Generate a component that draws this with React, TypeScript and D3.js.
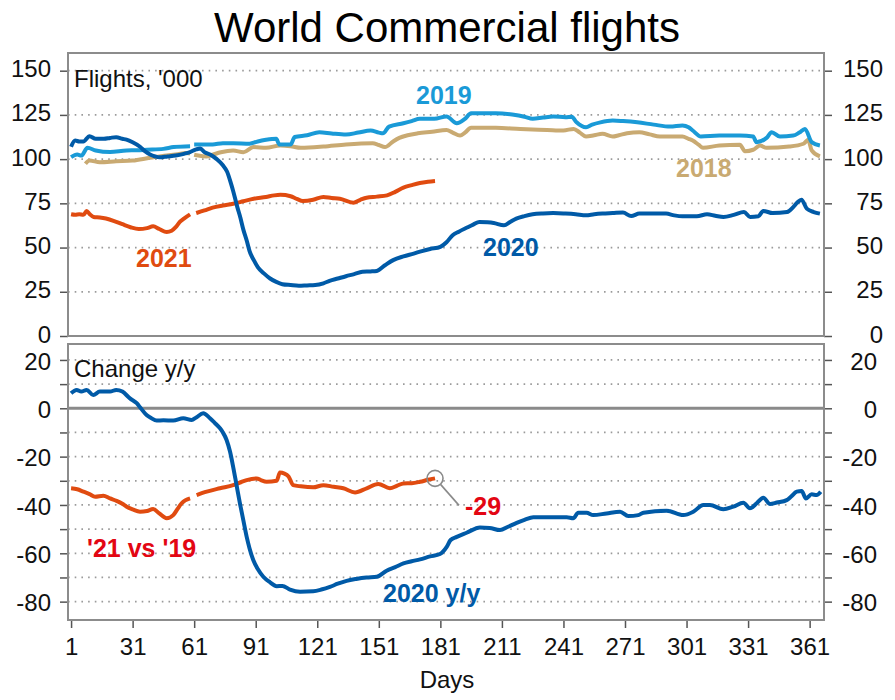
import React, { useRef, useEffect } from "react";
import * as d3 from "d3";

// [day of year, value]; null marks the Feb-29 gap
const flights2018 = [[8,97.4],[10,99.2],[15,98.3],[23,98.8],[31,99.2],[39.5,100.8],[47.6,102],[53,102.8],[57,103.4],[59,103.2],[60,null],[61,102.5],[63,102],[67,101.5],[70,102.5],[74,103.9],[80,104.9],[85,103.9],[90,106.8],[96,106.4],[103,107.7],[108,107.3],[113,106.4],[124,107.1],[135,108.3],[148,109],[151,108],[154,106.8],[158,110],[161,112],[165,113.5],[170,114.6],[177,115.5],[184,116.5],[187,115],[190.6,113.3],[193,115],[196,117.7],[208,117.7],[220,117],[233,116.5],[241,116.2],[246,117.1],[249,115],[252,112.8],[256,113.5],[260,114.3],[265,112.8],[268,113.5],[272,114.6],[278,115.2],[283,114],[288,112.8],[299,112.8],[302,111.5],[304,110.5],[307,108],[309,106.4],[317,107.7],[327,108.1],[329.5,104.5],[333.5,105.3],[336.8,107.7],[340,106.4],[351,107.1],[358,108.7],[360.3,110.9],[362,104.9],[366,101.5]];

const flights2019 = [[1,101.1],[4,102.6],[6,102],[9,106.4],[13,104.9],[20,104],[28,104.9],[33,105],[38,105.3],[46,105.8],[51,106.8],[59,107.3],[60,null],[61,108.3],[66,108.3],[70,108.3],[75,109],[80,109],[88,108.7],[92,110],[96,110.9],[101,111.5],[102.5,108.3],[108,108.3],[110,112.5],[116,113.5],[122,115.2],[128,114.5],[135,113.9],[141,115],[147,116.2],[151,115],[153,114.6],[156,118.4],[163,120.3],[167,121.5],[171,122.8],[178,122.8],[184,124.1],[189,120.3],[193,122.8],[196,125.9],[202,125.9],[208,125.9],[216,125.2],[222,124],[226,122.8],[231,123.5],[236,124.1],[242,123.7],[245,124],[247.4,120.8],[252,118],[255,119.5],[259,120.8],[265,121.8],[270,121.5],[277,120.8],[285,119.5],[293,118.4],[299,119],[302,118],[304,116.2],[308,112.8],[317,113.3],[327,113.3],[333.5,112.8],[335,109.6],[340,112],[342.5,115.2],[346.5,112.8],[353,113.3],[356,115],[358.7,117.1],[362,109.6],[366,107.7]];

const flights2020 = [[1,107],[3,110.5],[5,110],[7,110],[10,113],[13,111.5],[17,111.5],[20,112],[23,112.4],[26,111.5],[28,111],[31,109.5],[34.6,107],[37,104.5],[39.5,102.6],[42,101.5],[44,101],[48,101.5],[52,102],[56,103],[59,104],[62,105.5],[64,106],[66,104],[69,102.5],[72,100],[75,96.5],[77,93],[79,86],[80,82],[82,73],[83.5,67],[85,60],[86.6,54],[88,48],[90,43],[92,39],[95,35.4],[98,32.5],[101,30.6],[104,29.3],[108,28.8],[112,28.4],[116,28.6],[120,28.8],[124,29.8],[127,31.2],[131,32.5],[135,33.8],[139,35],[143,36.3],[147,36.5],[150,36.8],[154,40],[158,42.9],[163,45],[168,46.6],[172,48],[176,49.2],[181,50.4],[184,53],[187,57],[190,59],[194,61.3],[197,63],[200,64.5],[204,64.3],[207,63.9],[212,62.6],[215,64.5],[218,66.4],[222,67.8],[226,68.8],[231,69.3],[236,69.5],[242,69.2],[247,68.8],[252,68.2],[256,68.8],[260,69.2],[265,69.5],[270,69.8],[274,67.8],[278,69.2],[285,69.2],[291,69.2],[295,68.2],[299,67.7],[306,67.7],[311,68.8],[315,68],[319,67.3],[324,68.5],[329,70.1],[332,67.3],[336,67.7],[338.4,70.7],[343,69.5],[350,70.1],[353,72.9],[355,75.5],[357,77.1],[359.6,72],[363,70.1],[366,69.2]];

const flights2021 = [[1,68.8],[3,68.5],[5,68.8],[7,68.5],[8.6,70.7],[10,69],[12,67.3],[15,67],[18,66.4],[22,65],[26,63.2],[30,61.5],[34,60.5],[38,61],[41,62],[44,60.5],[47.6,58.8],[50,59.5],[52,61.5],[54,64.5],[56,66.4],[59,68.8],[60,null],[62,69.5],[66,71],[70,72.6],[75,73.8],[80,74.8],[85,76.2],[90,77.6],[96,78.6],[100,79.5],[103,79.8],[108,79],[111,77.5],[114,76.3],[119,77],[124,78.6],[128,78],[132,77.6],[138.6,75.4],[142,77],[145,78.2],[150,78.8],[155,79.5],[159,81.5],[163,83.9],[167,85.3],[171,86.5],[175,87.2],[178.4,87.6]];

const yoy2020 = [[1,6.2],[3.7,7.6],[6,6.9],[8.6,7.6],[11.8,5.5],[15,6.9],[20,6.9],[23,7.6],[26,6.9],[29.7,4.1],[33,2.1],[35,0],[37.8,-2.8],[40,-4],[42.7,-5.1],[46,-5],[50.8,-5.1],[55.7,-4.1],[59.8,-4.8],[62,-3.8],[65.4,-2.1],[68.7,-4.1],[71,-6],[73.6,-8.3],[75,-10],[76.8,-13.1],[78.5,-18],[80,-24.2],[81.7,-32],[83.3,-39.3],[85,-46.5],[86.6,-53.2],[88,-58],[89.8,-62.8],[92,-66.5],[94.7,-69.7],[98,-72],[101.2,-73.6],[104,-73.5],[107.7,-75],[112.6,-75.9],[119,-75.7],[123,-75],[127.2,-73.9],[131,-72.6],[135.3,-71.4],[140,-70.6],[145,-70],[150,-69.7],[154.8,-67.2],[159,-65.7],[163,-64.2],[167,-63.3],[171.1,-62.5],[176,-61.3],[180.8,-60.3],[184.1,-57.3],[186,-54.5],[189,-53.2],[193.8,-51.5],[200.3,-49.3],[205,-49.5],[210.1,-50.4],[214,-49],[218.2,-47.4],[222,-46.2],[226.3,-45.1],[235,-45.1],[242.6,-45.1],[245.8,-45.5],[248.2,-43.2],[252.3,-43.2],[255.5,-44.2],[262,-43.5],[268.6,-42.8],[272.6,-44.6],[277.5,-44.2],[280,-43.2],[291.3,-42.4],[299.4,-44.2],[304.3,-42.8],[309.2,-40],[312.4,-40],[318.9,-41.8],[323.8,-40.7],[328.7,-39.1],[331.9,-41.4],[335.2,-39.3],[338.4,-37],[341.7,-39.6],[345,-39],[349.8,-38],[352,-36.5],[354.7,-34.5],[357.1,-34.2],[359.2,-37.3],[362,-35.6],[364.4,-35.9],[366.4,-34.5]];

const yoy2119 = [[1,-33.1],[4,-33.5],[7,-34.5],[10,-35.5],[12.7,-36.6],[16.7,-36.2],[20,-37.3],[23.2,-38.3],[26,-39.5],[28.1,-40.7],[31,-41.8],[34.6,-42.8],[38,-42.5],[41,-41.7],[44,-43.5],[47.6,-45.5],[50.8,-44.2],[53,-41.5],[54.9,-39.3],[59,-37.3],[60,null],[62.2,-35.9],[67.1,-34.5],[73.6,-33.1],[80,-31.8],[84,-30.5],[86.6,-29.7],[91.5,-29],[93.5,-29.7],[96.3,-30.4],[101.2,-30],[102.8,-26.6],[105,-27],[107,-28.2],[109.3,-31.8],[113,-32.3],[119,-32.7],[124,-31.8],[129,-32.5],[133.7,-33.1],[139.4,-34.8],[145.1,-33.1],[150.7,-31.3],[156.4,-33.1],[160,-32],[163,-31.1],[167,-31],[171.1,-30.4],[175,-29.6],[178.4,-29]];

const dayTicks = [1, 31, 61, 91, 121, 151, 181, 211, 241, 271, 301, 331, 361];
const topTicks = [0, 25, 50, 75, 100, 125, 150];
const bottomTicks = [-80, -70, -60, -50, -40, -30, -20, -10, 0, 10, 20];

const FONT = "'Liberation Sans', Arial, Helvetica, sans-serif";
const C2020 = "#005aa7";
const C2019 = "#1a9ad7";
const C2018 = "#c9aa72";
const C2021 = "#e04b10";
const RED = "#e30613";
const FRAME = "#8c8c8c";

export default function App() {
  const ref = useRef(null);

  useEffect(() => {
    const width = 895;
    const height = 700;
    const left = 68;
    const right = 824;

    const svg = d3.select(ref.current);
    svg.selectAll("*").remove();
    svg.attr("width", width).attr("height", height).style("font-family", FONT);

    const x = d3.scaleLinear().domain([-0.5, 368]).range([left, right]);
    const yTop = d3.scaleLinear().domain([0, 160]).range([336, 53]);
    const yBot = d3.scaleLinear().domain([-87.6, 26.6]).range([620, 344]);

    // title
    svg.append("text")
      .attr("x", 447).attr("y", 42)
      .attr("text-anchor", "middle")
      .attr("font-size", 42)
      .attr("fill", "#000")
      .text("World Commercial flights");

    const grid = (y, vals) => {
      svg.append("g")
        .selectAll("line")
        .data(vals)
        .enter()
        .append("line")
        .attr("x1", left).attr("x2", right)
        .attr("y1", d => y(d)).attr("y2", d => y(d))
        .attr("stroke", "#9a9a9a")
        .attr("stroke-width", 1.8)
        .attr("stroke-dasharray", "1.6,5.1");
    };
    grid(yTop, topTicks.filter(d => d > 0));
    grid(yBot, bottomTicks.filter(d => d !== 0));

    // zero line
    svg.append("line")
      .attr("x1", left).attr("x2", right)
      .attr("y1", yBot(0)).attr("y2", yBot(0))
      .attr("stroke", "#8a8a8a").attr("stroke-width", 3);

    const styleAxis = (g, anchor, xPos, dy) => {
      g.select(".domain").remove();
      g.selectAll(".tick line").attr("stroke", "#555").attr("stroke-width", 1.5);
      g.selectAll(".tick text")
        .attr("font-size", 24)
        .attr("fill", "#111")
        .attr("font-family", FONT);
      if (anchor) g.selectAll(".tick text").attr("text-anchor", anchor).attr("x", xPos);
      if (dy) g.selectAll(".tick text").attr("dy", dy);
    };

    svg.append("g").attr("transform", `translate(${left},0)`)
      .call(d3.axisLeft(yTop).tickValues(topTicks).tickSize(8).tickPadding(9).tickFormat(d3.format("d")))
      .call(g => styleAxis(g, null, 0, "0.25em"));
    svg.append("g").attr("transform", `translate(${right},0)`)
      .call(d3.axisRight(yTop).tickValues(topTicks).tickSize(8).tickFormat(d3.format("d")))
      .call(g => styleAxis(g, "end", 59, "0.25em"));

    const botFmt = d => (d % 20 === 0 ? String(d) : "");
    svg.append("g").attr("transform", `translate(${left},0)`)
      .call(d3.axisLeft(yBot).tickValues(bottomTicks).tickSize(8).tickPadding(9).tickFormat(botFmt))
      .call(g => styleAxis(g, null, 0, "0.38em"));
    svg.append("g").attr("transform", `translate(${right},0)`)
      .call(d3.axisRight(yBot).tickValues(bottomTicks).tickSize(8).tickFormat(botFmt))
      .call(g => styleAxis(g, "end", 53, "0.38em"));

    svg.append("g").attr("transform", `translate(0,620)`)
      .call(d3.axisBottom(x).tickValues(dayTicks).tickSize(8).tickPadding(10).tickFormat(d3.format("d")))
      .call(g => styleAxis(g, null, 0, null));

    svg.append("text")
      .attr("x", 447).attr("y", 688)
      .attr("text-anchor", "middle")
      .attr("font-size", 24)
      .attr("fill", "#111")
      .text("Days");

    // panel frames
    [[53, 336], [344, 620]].forEach(([t, b]) => {
      svg.append("rect")
        .attr("x", left).attr("y", t)
        .attr("width", right - left).attr("height", b - t)
        .attr("fill", "none")
        .attr("stroke", FRAME)
        .attr("stroke-width", 2);
    });

    svg.append("text").attr("x", 74).attr("y", 87)
      .attr("font-size", 24).attr("fill", "#111").text("Flights, '000");
    svg.append("text").attr("x", 74).attr("y", 377)
      .attr("font-size", 24).attr("fill", "#111").text("Change y/y");

    const drawLine = (data, y, color) => {
      const line = d3.line()
        .defined(d => d[1] !== null)
        .x(d => x(d[0]))
        .y(d => y(d[1]))
        .curve(d3.curveMonotoneX);
      svg.append("path")
        .datum(data)
        .attr("d", line)
        .attr("fill", "none")
        .attr("stroke", color)
        .attr("stroke-width", 4)
        .attr("stroke-linejoin", "round");
    };

    drawLine(flights2018, yTop, C2018);
    drawLine(flights2019, yTop, C2019);
    drawLine(flights2021, yTop, C2021);
    drawLine(flights2020, yTop, C2020);
    drawLine(yoy2119, yBot, C2021);
    drawLine(yoy2020, yBot, C2020);

    const label = (txt, xp, yp, color) => {
      svg.append("text")
        .attr("x", xp).attr("y", yp)
        .attr("font-size", 25)
        .attr("font-weight", "bold")
        .attr("fill", color)
        .text(txt);
    };
    label("2019", 416, 104, C2019);
    label("2018", 676, 177, C2018);
    label("2020", 483, 256, C2020);
    label("2021", 136, 267, C2021);
    label("'21 vs '19", 87, 557, RED);
    label("2020 y/y", 383, 602, C2020);

    // callout on the last '21 vs '19 value
    const last = yoy2119[yoy2119.length - 1];
    const cx = x(last[0]);
    const cy = yBot(last[1]);
    svg.append("circle")
      .attr("cx", cx).attr("cy", cy).attr("r", 8)
      .attr("fill", "none").attr("stroke", "#8a8a8a").attr("stroke-width", 1.6);
    svg.append("line")
      .attr("x1", cx + 5.5).attr("y1", cy + 6)
      .attr("x2", cx + 24).attr("y2", cy + 27)
      .attr("stroke", "#8a8a8a").attr("stroke-width", 1.6);
    label(String(last[1]), cx + 30, cy + 37, RED);
  }, []);

  return <svg ref={ref} style={{ position: "absolute", left: 0, top: 0 }}></svg>;
}
